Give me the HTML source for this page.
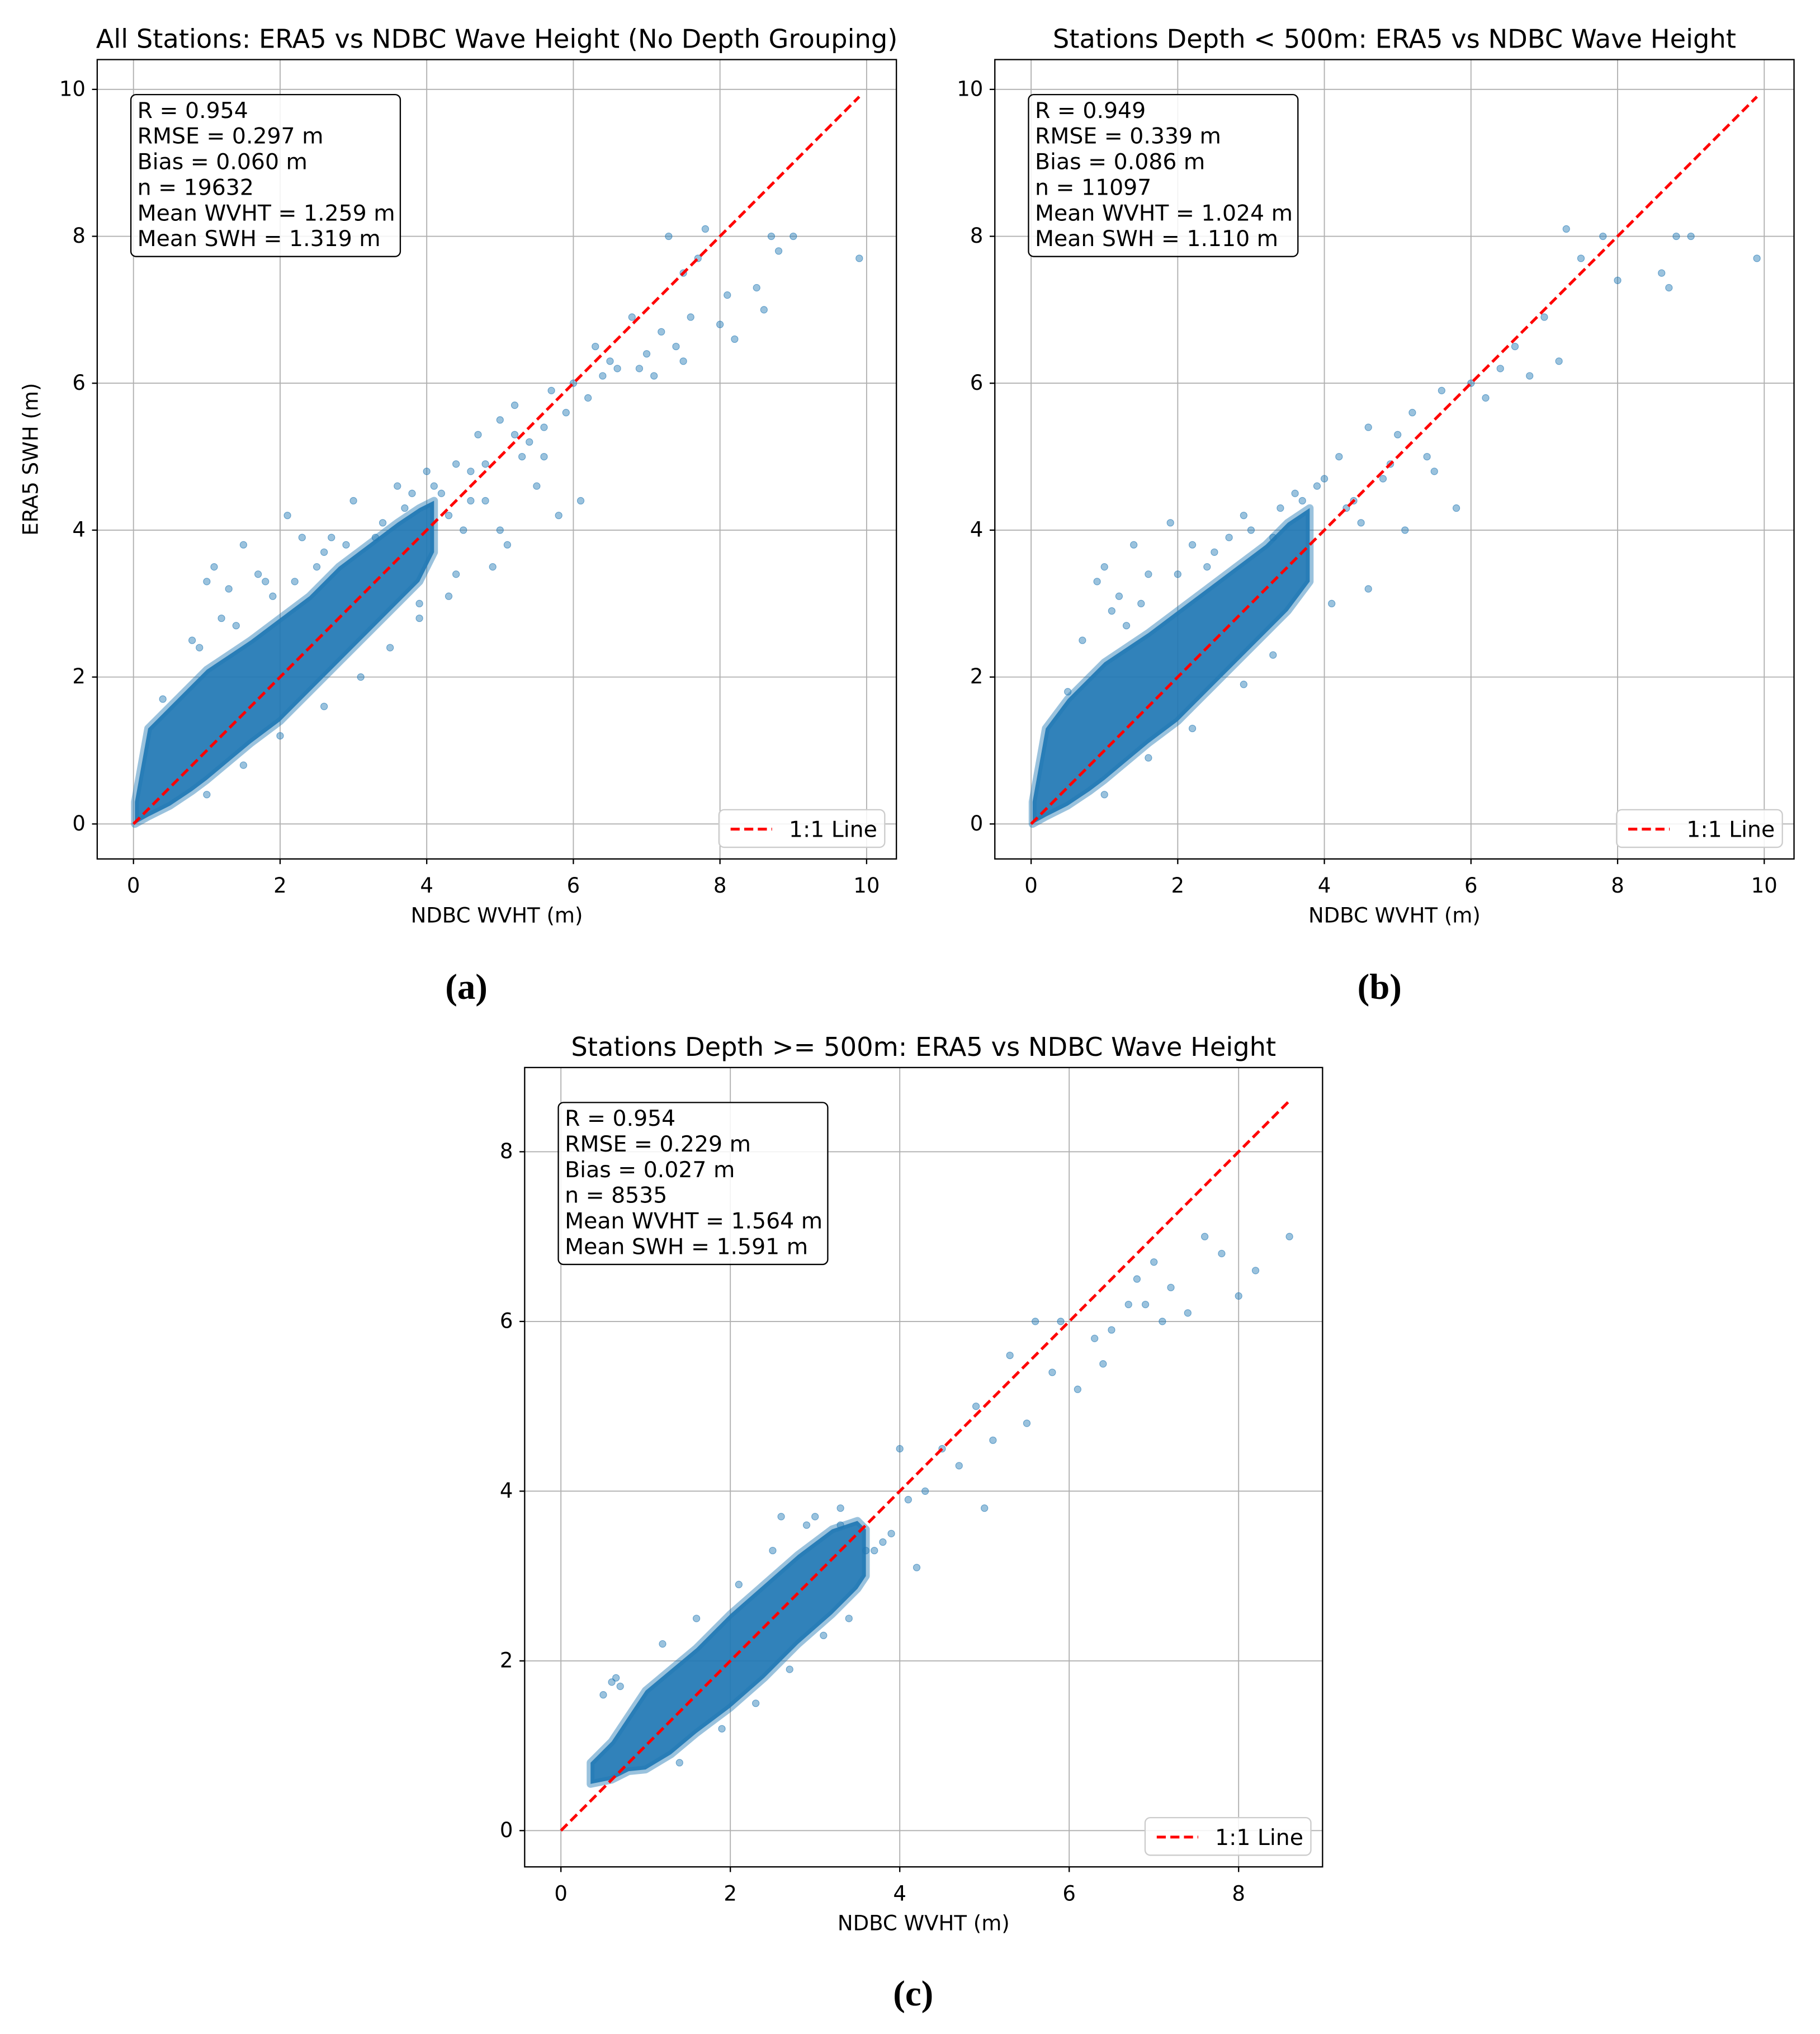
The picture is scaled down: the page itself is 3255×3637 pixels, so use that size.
<!DOCTYPE html>
<html><head><meta charset="utf-8"><style>
html,body{margin:0;padding:0;background:#fff;}
svg{display:block;}
text{font-family:"DejaVu Sans","Liberation Sans",sans-serif;fill:#000;}
</style></head><body>
<svg id="fig" xmlns="http://www.w3.org/2000/svg" width="3255" height="3637" viewBox="0 0 1405 1570"></svg>
<script>
// ---------- data ----------
const xTicksAB = [0,2,4,6,8,10];
const yTicksAB = [0,2,4,6,8,10];
const xTicksC = [0,2,4,6,8];
const yTicksC = [0,2,4,6,8];
const statsA = ["R = 0.954","RMSE = 0.297 m","Bias = 0.060 m","n = 19632","Mean WVHT = 1.259 m","Mean SWH = 1.319 m"];
const statsB = ["R = 0.949","RMSE = 0.339 m","Bias = 0.086 m","n = 11097","Mean WVHT = 1.024 m","Mean SWH = 1.110 m"];
const statsC = ["R = 0.954","RMSE = 0.229 m","Bias = 0.027 m","n = 8535","Mean WVHT = 1.564 m","Mean SWH = 1.591 m"];
// dense-core envelope: x, lower y, upper y
const coreXA = [0.02,0.2,0.5,0.8,1.0,1.3,1.6,2.0,2.4,2.8,3.2,3.6,3.9,4.1];
const coreLoA = [0.0,0.1,0.25,0.45,0.6,0.85,1.1,1.4,1.8,2.2,2.6,3.0,3.3,3.7];
const coreHiA = [0.3,1.3,1.6,1.9,2.1,2.3,2.5,2.8,3.1,3.5,3.8,4.1,4.3,4.4];
const coreXB = [0.02,0.2,0.5,0.8,1.0,1.3,1.6,2.0,2.4,2.8,3.2,3.5,3.8];
const coreLoB = [0.0,0.1,0.25,0.45,0.6,0.85,1.1,1.4,1.8,2.2,2.6,2.9,3.3];
const coreHiB = [0.3,1.3,1.7,2.0,2.2,2.4,2.6,2.9,3.2,3.5,3.8,4.1,4.3];
const coreXC = [0.35,0.6,0.8,1.0,1.3,1.6,2.0,2.4,2.8,3.2,3.5,3.6];
const coreLoC = [0.55,0.6,0.7,0.72,0.9,1.15,1.45,1.8,2.2,2.55,2.85,3.0];
const coreHiC = [0.8,1.05,1.35,1.65,1.9,2.15,2.55,2.9,3.25,3.55,3.65,3.55];
// outlier points
const ptsXA = [1.0,1.1,1.3,1.5,1.7,2.1,2.3,2.6,3.0,3.3,3.6,3.8,4.0,4.2,4.4,4.5,4.7,4.8,5.0,5.1,5.2,5.3,5.4,5.5,5.6,5.7,5.8,5.9,6.0,6.1,6.2,6.4,6.5,6.6,6.8,6.9,7.0,7.1,7.2,7.3,7.4,7.5,7.6,7.7,7.8,8.0,8.1,8.2,8.5,8.6,8.7,8.8,9.0,9.9,5.6,4.3,4.9,3.9,5.0,6.3,7.5,
  0.8,1.2,1.4,1.9,2.2,2.5,2.9,3.4,3.7,4.1,4.3,4.6,1.0,1.5,2.0,2.6,3.1,3.5,0.4,0.9,1.8,2.7,3.9,4.4,4.6,4.8,5.2];
const ptsYA = [3.3,3.5,3.2,3.8,3.4,4.2,3.9,3.7,4.4,3.9,4.6,4.5,4.8,4.5,4.9,4.0,5.3,4.4,5.5,3.8,5.7,5.0,5.2,4.6,5.4,5.9,4.2,5.6,6.0,4.4,5.8,6.1,6.3,6.2,6.9,6.2,6.4,6.1,6.7,8.0,6.5,7.5,6.9,7.7,8.1,6.8,7.2,6.6,7.3,7.0,8.0,7.8,8.0,7.7,5.0,3.1,3.5,2.8,4.0,6.5,6.3,
  2.5,2.8,2.7,3.1,3.3,3.5,3.8,4.1,4.3,4.6,4.2,4.4,0.4,0.8,1.2,1.6,2.0,2.4,1.7,2.4,3.3,3.9,3.0,3.4,4.8,4.9,5.3];
const ptsXB = [0.9,1.0,1.2,1.4,1.6,1.9,2.2,2.5,2.9,3.3,3.6,3.9,4.2,4.4,4.6,4.8,5.0,5.2,5.4,5.6,5.8,6.0,6.2,6.4,6.6,6.8,7.0,7.2,7.3,7.5,7.8,8.0,8.6,8.7,8.8,9.0,9.9,4.1,4.6,5.1,5.5,
  0.7,1.1,1.5,2.0,2.4,2.7,3.0,3.4,3.7,4.0,4.3,4.5,4.9,1.0,1.6,2.2,2.9,3.3,0.5,1.3];
const ptsYB = [3.3,3.5,3.1,3.8,3.4,4.1,3.8,3.7,4.2,3.9,4.5,4.6,5.0,4.4,5.4,4.7,5.3,5.6,5.0,5.9,4.3,6.0,5.8,6.2,6.5,6.1,6.9,6.3,8.1,7.7,8.0,7.4,7.5,7.3,8.0,8.0,7.7,3.0,3.2,4.0,4.8,
  2.5,2.9,3.0,3.4,3.5,3.9,4.0,4.3,4.4,4.7,4.3,4.1,4.9,0.4,0.9,1.3,1.9,2.3,1.8,2.7];
const ptsXC = [0.6,0.7,3.0,3.3,3.6,3.8,4.0,4.1,4.3,4.5,4.7,4.9,5.1,5.3,5.5,5.6,5.8,5.9,6.1,6.3,6.5,6.7,6.8,7.0,7.2,7.4,7.6,7.8,8.0,8.2,8.6,4.2,5.0,6.4,6.9,7.1,2.6,3.4,
  0.5,0.65,1.2,1.6,2.1,2.5,2.9,3.3,1.4,1.9,2.3,2.7,3.1,3.7,3.9];
const ptsYC = [1.75,1.7,3.7,3.6,3.3,3.4,4.5,3.9,4.0,4.5,4.3,5.0,4.6,5.6,4.8,6.0,5.4,6.0,5.2,5.8,5.9,6.2,6.5,6.7,6.4,6.1,7.0,6.8,6.3,6.6,7.0,3.1,3.8,5.5,6.2,6.0,3.7,2.5,
  1.6,1.8,2.2,2.5,2.9,3.3,3.6,3.8,0.8,1.2,1.5,1.9,2.3,3.3,3.5];

const NS="http://www.w3.org/2000/svg";
const svg=document.getElementById('fig');
function el(tag,attrs,parent){const e=document.createElementNS(NS,tag);for(const k in attrs)e.setAttribute(k,attrs[k]);(parent||svg).appendChild(e);return e;}
function txt(s,attrs,parent){const t=el('text',attrs,parent);t.textContent=s;return t;}

function panel(cfg){
  const g=el('g',{});
  
  
  const sx=v=>cfg.x0+(v)*cfg.kx;
  const sy=v=>cfg.y0-(v)*cfg.ky;
  cfg.xt.forEach(v=>{const l=el('line',{x1:sx(v),x2:sx(v),y1:cfg.top,y2:cfg.bottom,stroke:'#b0b0b0','stroke-width':0.8},g);
    });
  cfg.yt.forEach(v=>{const l=el('line',{x1:cfg.left,x2:cfg.right,y1:sy(v),y2:sy(v),stroke:'#b0b0b0','stroke-width':0.8},g);
    });
  let d='';
  cfg.cx.forEach((v,i)=>{d+=(i?'L':'M')+sx(v)+','+sy(cfg.hi[i]);});
  for(let i=cfg.cx.length-1;i>=0;i--)d+='L'+sx(cfg.cx[i])+','+sy(cfg.lo[i]);
  d+='Z';
  const core=el('path',{d:d,fill:'#1f77b4','fill-opacity':0.92,stroke:'#1f77b4','stroke-width':6,'stroke-opacity':0.45,'stroke-linejoin':'round'},g);
  
  cfg.px.forEach((v,i)=>{const c=el('circle',{cx:sx(v),cy:sy(cfg.py[i]),r:2.6,fill:'#1f77b4','fill-opacity':0.45,stroke:'#1f77b4','stroke-opacity':0.6,'stroke-width':0.5},g);
    });
  const ll=el('line',{x1:sx(0),y1:sy(0),x2:sx(cfg.lineMax),y2:sy(cfg.lineMax),stroke:'#ff0000','stroke-width':2.2,'stroke-dasharray':'7,3.5'},g);
  
  const fr=el('rect',{x:cfg.left,y:cfg.top,width:cfg.right-cfg.left,height:cfg.bottom-cfg.top,fill:'none',stroke:'#000','stroke-width':1},g);
  
  cfg.xt.forEach(v=>{el('line',{x1:sx(v),x2:sx(v),y1:cfg.bottom,y2:cfg.bottom+4,stroke:'#000'},g);
    const t=txt(String(v),{x:sx(v),y:cfg.bottom+26,'font-size':16,'text-anchor':'middle'},g);
    });
  cfg.yt.forEach(v=>{el('line',{x1:cfg.left-4,x2:cfg.left,y1:sy(v),y2:sy(v),stroke:'#000'},g);
    const t=txt(String(v),{x:cfg.left-9,y:sy(v)+5,'font-size':16,'text-anchor':'end'},g);
    });
  const xl=txt('NDBC WVHT (m)',{x:(cfg.left+cfg.right)/2,y:cfg.bottom+49,'font-size':16,'text-anchor':'middle'},g);
  
  if(cfg.ylabel){const yl=txt('ERA5 SWH (m)',{x:0,y:0,'font-size':16,'text-anchor':'middle',transform:`translate(${cfg.left-46},${(cfg.top+cfg.bottom)/2}) rotate(-90)`},g);
    }
  const ti=txt(cfg.title,{x:(cfg.left+cfg.right)/2,y:cfg.top-9,'font-size':20,'text-anchor':'middle'},g);
  
  const sb=el('rect',{x:cfg.left+26,y:cfg.top+27,width:208,height:125,rx:4,fill:'#fff','fill-opacity':0.85,stroke:'#000','stroke-width':1},g);
  
  cfg.stats.forEach((s,i)=>{const t=txt(s,{x:cfg.left+31,y:cfg.top+45+i*19.8,'font-size':17},g);
    });
  const lg=el('rect',{x:cfg.right-137,y:cfg.bottom-38,width:128,height:29,rx:4,fill:'#fff','fill-opacity':0.85,stroke:'#ccc','stroke-width':1},g);
  
  el('line',{x1:cfg.right-128,x2:cfg.right-96,y1:cfg.bottom-23,y2:cfg.bottom-23,stroke:'#ff0000','stroke-width':2.2,'stroke-dasharray':'7,3.5'},g);
  const lt=txt('1:1 Line',{x:cfg.right-83,y:cfg.bottom-17,'font-size':17},g);
  
  const pl=txt(cfg.label,{x:cfg.plx,y:cfg.ply,'text-anchor':'middle',style:'font-family:"Liberation Serif",serif;font-weight:bold;font-size:28px;'},g);
  
}
panel({name:'panel-a',left:75,right:692,top:46,bottom:663,x0:103,kx:56.6,y0:636,ky:56.7,xt:xTicksAB,yt:yTicksAB,cx:coreXA,lo:coreLoA,hi:coreHiA,px:ptsXA,py:ptsYA,lineMax:9.9,
  title:'All Stations: ERA5 vs NDBC Wave Height (No Depth Grouping)',stats:statsA,ylabel:true,label:'(a)',plx:360,ply:771});
panel({name:'panel-b',left:768,right:1385,top:46,bottom:663,x0:796,kx:56.6,y0:636,ky:56.7,xt:xTicksAB,yt:yTicksAB,cx:coreXB,lo:coreLoB,hi:coreHiB,px:ptsXB,py:ptsYB,lineMax:9.9,
  title:'Stations Depth < 500m: ERA5 vs NDBC Wave Height',stats:statsB,ylabel:false,label:'(b)',plx:1065,ply:771});
panel({name:'panel-c',left:405,right:1021,top:824,bottom:1441,x0:433,kx:65.4,y0:1413,ky:65.5,xt:xTicksC,yt:yTicksC,cx:coreXC,lo:coreLoC,hi:coreHiC,px:ptsXC,py:ptsYC,lineMax:8.6,
  title:'Stations Depth >= 500m: ERA5 vs NDBC Wave Height',stats:statsC,ylabel:false,label:'(c)',plx:705,ply:1548});
</script>
</body></html>
